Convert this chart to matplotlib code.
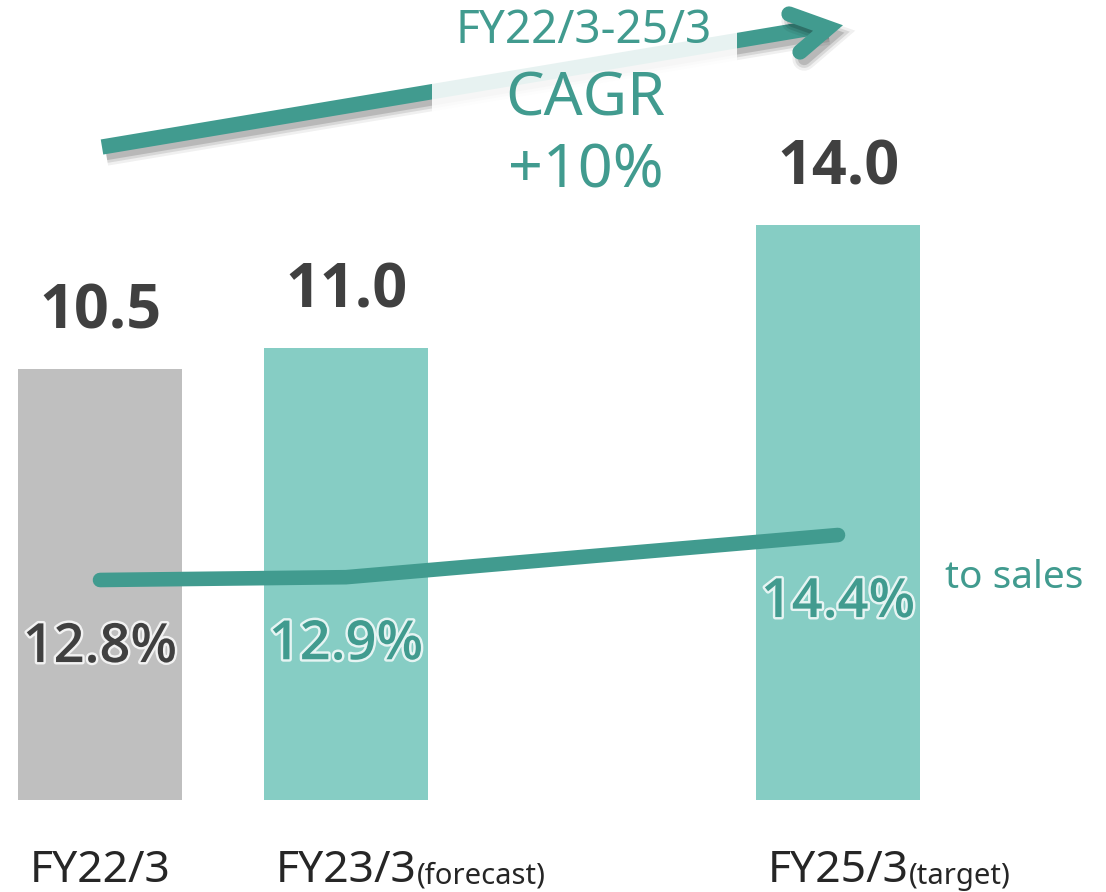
import matplotlib
matplotlib.use("Agg")
import matplotlib.pyplot as plt
import matplotlib.patheffects as pe
from matplotlib.lines import Line2D
from matplotlib.patches import Rectangle

# ---- data ----
fiscal_years = ["FY22/3", "FY23/3", "FY24/3", "FY25/3"]
categories = ["FY22/3", "FY23/3", "FY25/3"]
suffixes = ["", "(forecast)", "(target)"]
sales_values = [10.5, 11.0, 14.0]
ratio_to_sales = [12.8, 12.9, 14.4]
cagr_lines = ["FY22/3-25/3", "CAGR", "+10%"]
series_label = "to sales"

# ---- style ----
TEAL = "#419B8F"
BAR_TEAL = "#86CDC4"
GRAY = "#BFBFBF"
DARK = "#404040"
LABEL = "#262626"
plt.rcParams["font.family"] = ["Noto Sans", "DejaVu Sans"]
BOLD_FAMILY = ["Open Sans", "DejaVu Sans"]

W, H = 1106, 892
fig = plt.figure(figsize=(W / 100, H / 100), dpi=100)
ax = fig.add_axes([0, 0, 1, 1])
px_x = 246.0   # pixels per category step
px_y = 41.05   # pixels per unit of value
ax.set_xlim(-100 / px_x, (W - 100) / px_x)
ax.set_ylim(-(H - 800) / px_y, 800 / px_y)
ax.axis("off")

x = [fiscal_years.index(c) for c in categories]
colors = [GRAY, BAR_TEAL, BAR_TEAL]
ax.bar(x, sales_values, width=164 / px_x, color=colors, zorder=1)

for xi, v in zip(x, sales_values):
    ax.annotate(f"{v:.1f}", xy=(xi, v), xytext=(0, 29.5), textcoords="offset points",
                ha="center", va="baseline", fontsize=44, fontweight="bold",
                family=BOLD_FAMILY, color=DARK)

for xi, c, s in zip(x, categories, suffixes):
    t = ax.annotate(c, xy=(xi, 0), xytext=(0, -59), textcoords="offset points",
                    ha="center", va="baseline", fontsize=32, color=LABEL)
    if s:
        ax.annotate(s, xy=(1, 0.21), xycoords=t, ha="left", va="baseline",
                    fontsize=21, color=LABEL)

# secondary axis for ratio line
ax2 = ax.twinx()
ppu = 28.125
ax2.set_ylim(12.8 - (H - 580) / ppu, 12.8 + 580 / ppu)
ax2.axis("off")
ax2.plot(x, ratio_to_sales, color=TEAL, lw=10.5, solid_capstyle="round",
         solid_joinstyle="round", zorder=3)
pct_colors = [DARK, TEAL, TEAL]
for xi, v, col in zip(x, ratio_to_sales, pct_colors):
    ax2.annotate(f"{v:.1f}%", xy=(xi, v), xytext=(0, -49), textcoords="offset points",
                 ha="center", va="center", fontsize=39, fontweight="semibold",
                 family=BOLD_FAMILY, color=col,
                 path_effects=[pe.withStroke(linewidth=3.5, foreground="white", alpha=0.8)])
ax2.annotate(series_label, xy=(x[-1], ratio_to_sales[-1]), xytext=(77, -31),
             textcoords="offset points", ha="left", va="center", fontsize=28, color=TEAL)

# ---- decorative CAGR arrow ----
def fx(p):
    return p / W

def fy(p):
    return 1 - p / H

ARROW_LW = 11
shadow = [
    pe.SimpleLineShadow(offset=(3, -5), shadow_color="black", alpha=0.06, linewidth=ARROW_LW + 6),
    pe.SimpleLineShadow(offset=(3, -5), shadow_color="black", alpha=0.10, linewidth=ARROW_LW + 2),
    pe.SimpleLineShadow(offset=(3, -5), shadow_color="black", alpha=0.14, linewidth=ARROW_LW - 2),
    pe.Normal(),
]
shaft = Line2D([fx(102), fx(824)], [fy(147), fy(26)], transform=fig.transFigure,
               color=TEAL, lw=ARROW_LW, solid_capstyle="butt", zorder=2, path_effects=shadow)
head = Line2D([fx(789), fx(828), fx(800)], [fy(14), fy(28), fy(52)], transform=fig.transFigure,
              color=TEAL, lw=ARROW_LW, solid_capstyle="round", solid_joinstyle="miter",
              zorder=2, path_effects=shadow)
fig.add_artist(shaft)
fig.add_artist(head)
fig.add_artist(Rectangle((fx(432), fy(205)), fx(737) - fx(432), 205 / H,
                         transform=fig.transFigure, facecolor="white", edgecolor="none",
                         alpha=0.88, zorder=3))
fig.text(fx(584), fy(31), cagr_lines[0], ha="center", va="center", fontsize=33,
         color=TEAL, zorder=4)
fig.text(fx(585), fy(100), cagr_lines[1], ha="center", va="center", fontsize=44,
         color=TEAL, zorder=4)
fig.text(fx(586), fy(172), cagr_lines[2], ha="center", va="center", fontsize=44,
         color=TEAL, zorder=4)

fig.savefig("out.png", dpi=100, facecolor="white")
